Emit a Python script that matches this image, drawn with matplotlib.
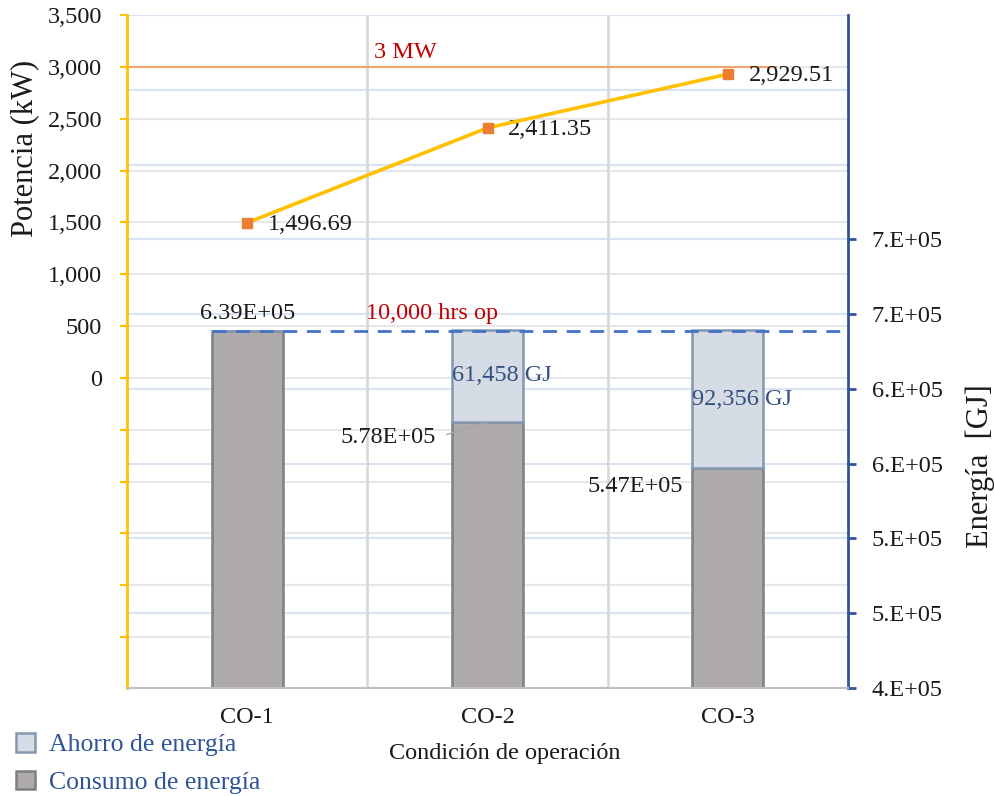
import matplotlib
matplotlib.use("Agg")
import matplotlib.pyplot as plt
import numpy as np

plt.rcParams['font.family'] = ['Liberation Serif', 'DejaVu Serif']

# ---- data ----
categories = ["CO-1", "CO-2", "CO-3"]
potencia_kw = [1496.69, 2411.35, 2929.51]
consumo_gj = [6.39e5, 5.78e5, 5.47e5]
ahorro_gj = [0, 61458, 92356]
limite_kw = 3000
kw_ticks = [0, 500, 1000, 1500, 2000, 2500, 3000, 3500]
gj_ticks = [4.0e5, 4.5e5, 5.0e5, 5.5e5, 6.0e5, 6.5e5, 7.0e5]
gj_tick_labels = ["4.E+05", "5.E+05", "5.E+05", "6.E+05", "6.E+05", "7.E+05", "7.E+05"]

# ---- style ----
YELLOW = '#FFC000'
ORANGE = '#ED7D31'
BLUE_AX = '#2F5597'
RED = '#C00000'
GREY_BAR = '#AEAAAA'
GREY_EDGE = '#7F7F7F'
SAVE_FILL = '#D6DCE5'
SAVE_EDGE = '#8497B0'
TXT = '#1a1a1a'
FS = 17.5

fig = plt.figure(figsize=(9.94, 7.96), dpi=100)
ax = fig.add_axes([127/994, (796-688)/796, (848-127)/994, (688-15)/796])
ax2 = ax.twinx()
ax.set_zorder(ax2.get_zorder() + 1)
ax.patch.set_visible(False)

x = np.arange(len(categories))
bar_w = 0.295

ax.set_xlim(-0.5, 2.5)
ax.set_ylim(-2990, 3500)
ax2.set_ylim(4.0e5, 8.5e5)

# gridlines (drawn beneath the bars)
kw_grid = np.arange(-2500, 3501, 500)
ax2.hlines(kw_grid, 0, 1, transform=ax.get_yaxis_transform(),
           colors='#E7E7E7', lw=1.5, zorder=0)
gj_grid = np.arange(4.5e5, 8.51e5, 5e4)
ax2.hlines(gj_grid, 0, 1, transform=ax2.get_yaxis_transform(),
           colors='#DAE3F3', lw=1.5, zorder=0)
for xv in [0.5, 1.5]:
    ax2.axvline(xv, color='#D9D9D9', lw=2, zorder=0.5)

# stacked energy bars
b_cons = ax2.bar(x, consumo_gj, width=bar_w, color=GREY_BAR,
                 edgecolor=GREY_EDGE, lw=1.8, zorder=2)
b_ahor = ax2.bar(x, ahorro_gj, width=bar_w, bottom=consumo_gj, color=SAVE_FILL,
                 edgecolor=SAVE_EDGE, lw=1.8, zorder=2)

# reference energy at 10,000 operating hours
ax2.hlines(consumo_gj[0], -bar_w/2, 2.5, colors='#4472C4', lw=2,
           linestyles=(0, (5, 3.5)), zorder=3)
ax2.annotate("10,000 hrs op", (0.77, consumo_gj[0]), xytext=(0, 5),
             textcoords='offset points', ha='center', va='bottom',
             color=RED, fontsize=FS)

# bar labels
ax2.annotate(f"{consumo_gj[0]:.2E}", (x[0], consumo_gj[0]), xytext=(0, 5),
             textcoords='offset points', ha='center', va='bottom',
             color=TXT, fontsize=FS)
ax2.annotate(f"{consumo_gj[1]:.2E}", (x[1], consumo_gj[1]), xytext=(-37, -11.5),
             textcoords='offset points', ha='right', va='center',
             color=TXT, fontsize=FS,
             arrowprops=dict(arrowstyle='-', color='#A6A6A6', lw=1,
                             relpos=(1, 0.5), shrinkA=6, shrinkB=0))
ax2.annotate(f"{consumo_gj[2]:.2E}", (x[2], consumo_gj[2]), xytext=(-32, -13),
             textcoords='offset points', ha='right', va='center',
             color=TXT, fontsize=FS)
for xi, c, a in zip(x, consumo_gj, ahorro_gj):
    if a > 0:
        ax2.text(xi - bar_w/2, c + a/2, f"{a:,.0f} GJ", ha='left', va='center',
                 color='#34507F', fontsize=FS, zorder=4)

# power series on the left axis
ax.plot([-0.5, 2.2], [limite_kw, limite_kw], color='#F2A36B', lw=1.5, zorder=2)
ax.text(0.657, limite_kw + 40, "3 MW", ha='center', va='bottom',
        color=RED, fontsize=FS)
ax.plot(x, potencia_kw, color=YELLOW, lw=2.6, marker='s', ms=6.5,
        mfc=ORANGE, mec=ORANGE, zorder=4)
for xi, v in zip(x, potencia_kw):
    ax.annotate(f"{v:,.2f}", (xi, v), xytext=(15, -1), textcoords='offset points',
                ha='left', va='center', color=TXT, fontsize=FS)

# axes styling
ax.set_yticks(kw_grid)
ax.set_yticklabels([f"{v:,.0f}" if v in kw_ticks else "" for v in kw_grid])
ax.tick_params(axis='y', direction='out', length=5, width=1.5, color=YELLOW,
               labelsize=FS, labelcolor=TXT, pad=13)
ax.set_xticks(x)
ax.set_xticklabels(categories)
ax.tick_params(axis='x', length=0, labelsize=FS, labelcolor=TXT, pad=14)
for s in ['top', 'right']:
    ax.spines[s].set_visible(False)
ax.spines['left'].set_color(YELLOW)
ax.spines['left'].set_linewidth(2)
ax.spines['bottom'].set_color('#BFBFBF')
ax.spines['bottom'].set_linewidth(1.5)

ax2.set_yticks(gj_ticks)
ax2.set_yticklabels(gj_tick_labels)
ax2.tick_params(axis='y', direction='out', length=6, width=2, color=BLUE_AX,
                labelsize=FS, labelcolor=TXT, pad=11)
for s in ['top', 'left', 'bottom']:
    ax2.spines[s].set_visible(False)
ax2.spines['right'].set_color(BLUE_AX)
ax2.spines['right'].set_linewidth(2)

# axis titles
fig.text(25/994, 1 - 148/796, "Potencia (kW)", rotation=90, ha='center', va='center',
         fontsize=22, color=TXT)
fig.text(980/994, 1 - 466/796, "Energía  [GJ]", rotation=90, ha='center', va='center',
         fontsize=22, color=TXT)
fig.text(505/994, 1 - 754/796, "Condición de operación", ha='center', va='center',
         fontsize=FS, color=TXT)

fig.legend([b_ahor, b_cons], ["Ahorro de energía", "Consumo de energía"],
           loc='upper left', bbox_to_anchor=(16/994, 1 - 733/796),
           frameon=False, fontsize=18.5, labelcolor=BLUE_AX,
           handlelength=0.75, handleheight=0.75, handletextpad=0.55,
           labelspacing=0.55, borderpad=0, borderaxespad=0)

fig.savefig("out.png", dpi=100)
